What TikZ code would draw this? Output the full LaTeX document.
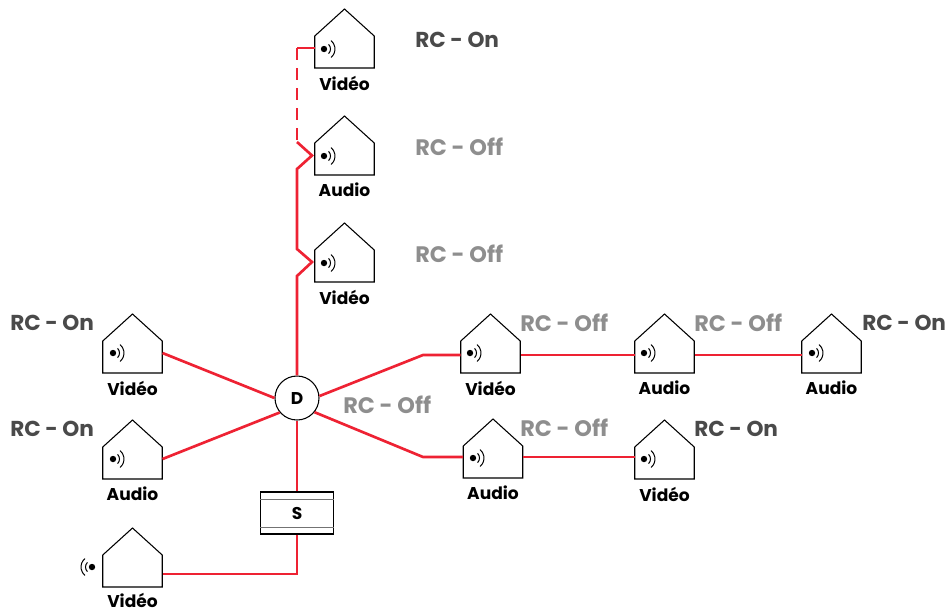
\documentclass[tikz,border=0pt]{standalone}
\usepackage{fontspec}
\setmainfont{Poppins}
\definecolor{wirered}{HTML}{EE2233}
\definecolor{rcon}{HTML}{4A4A4A}
\definecolor{rcoff}{HTML}{8E8E8E}
\tikzset{
  wire/.style={wirered, line width=2pt},
  outline/.style={line width=0.8pt, line join=miter},
  port/.style={inner sep=0pt, minimum width=44.6pt, minimum height=1pt},
  caption/.style={inner sep=0pt, font=\fontsize{12.8}{13}\selectfont\bfseries},
  on/.style={inner sep=0pt, anchor=west, text=rcon, font=\fontsize{16.2}{17}\selectfont\bfseries},
  off/.style={inner sep=0pt, anchor=west, text=rcoff, font=\fontsize{16.8}{17}\selectfont\bfseries},
  pics/signal/.style={code={
    \fill (0,0) circle (3.2);
    \draw[line width=0.75pt] (45:6.5) arc (45:-45:6.5);
    \draw[line width=0.75pt] (50:11) arc (50:-50:11);
  }}
}
% name, x of centre, y of apex, y of wire, caption
\newcommand{\house}[5]{
  \node[port] (#1) at (#2,#4) {};
  \draw[outline] (#2,#3) -- (#2+29.75,#3+27) -- (#2+29.75,#3+59) -- (#2-29.75,#3+59) -- (#2-29.75,#3+27) -- cycle;
  \node[caption] (#1text) at (#2,#3+74) {#5};
}
\begin{document}
\begin{tikzpicture}[x=0.75pt,y=-0.75pt]
\useasboundingbox (0,0) rectangle (948,608);

\house{VA}{344.5}{9}{48}{Vidéo}
\house{AB}{344.5}{116}{155}{Audio}
\house{VC}{344.5}{223}{262}{Vidéo}
\house{VL}{132.5}{314}{353}{Vidéo}
\house{AL}{132.5}{420}{459}{Audio}
\begin{scope}[caption/.append style={yshift=1pt}]
\house{VB}{132.5}{528}{574}{Vidéo}
\end{scope}
\house{VR}{490.5}{314}{355}{Vidéo}
\house{AR}{664.5}{314}{355}{Audio}
\house{AS}{831.5}{314}{355}{Audio}
\house{AT}{493}{419}{457}{Audio}
\house{VT}{664.5}{420}{457}{Vidéo}

\pic at (324,49) {signal};
\pic at (324,156) {signal};
\pic at (324,263) {signal};
\pic at (113,353) {signal};
\pic at (113,459) {signal};
\pic at (470,353) {signal};
\pic at (644,353) {signal};
\pic at (812,353) {signal};
\pic at (473,458) {signal};
\pic at (644,459) {signal};
\pic[rotate=180] at (92,567) {signal};

\node[circle, draw, fill=white, line width=0.8pt, inner sep=0pt, minimum size=33pt, font=\fontsize{12.8}{13}\selectfont\bfseries] (D) at (297,398) {D};
\node[draw, line width=0.8pt, inner sep=0pt, minimum width=55pt, minimum height=31.5pt, font=\fontsize{12.8}{13}\selectfont\bfseries] (S) at (297,513) {S};
\draw[line width=1pt, black!55] ([yshift=-6pt]S.north west) -- ([yshift=-6pt]S.north east);
\draw[line width=1pt, black!55] ([yshift=5.2pt]S.south west) -- ([yshift=5.2pt]S.south east);

\coordinate (zigA) at (297,142);
\coordinate (topA) at (297,48);
\coordinate (elbowU) at (423,355);
\coordinate (elbowL) at (423,457);
\coordinate (elbowB) at (297,574);

\draw[wire] (VA.west) -- (topA);
\draw[wire, dash pattern=on 9pt off 6pt] (topA) -- (zigA);
\draw[wire] (zigA) -- (312,155.5) -- (297,169) -- (297,249) -- (312,262) -- (297,276) -- (D.north);
\draw[wire] (VL.east) -- (D.180);
\draw[wire] (AL.east) -- (D.220);
\draw[wire] (D.5) -- (elbowU) -- (VR.west);
\draw[wire] (D.-39) -- (elbowL) -- (AT.west);
\draw[wire] (VR.east) -- (AR.west);
\draw[wire] (AR.east) -- (AS.west);
\draw[wire] (AT.east) -- (VT.west);
\draw[wire] (D.south) -- (S.north);
\draw[wire] (S.south) -- (elbowB) -- (VB.east);

\node[on] (rcA) at (415,40) {RC - On};
\node[off] (rcB) at (415,147) {RC - Off};
\node[off] (rcC) at (415,254) {RC - Off};
\node[on] (rcD) at (10,323) {RC - On};
\node[on] (rcE) at (10,429) {RC - On};
\node[off] (rcF) at (520,323) {RC - Off};
\node[off] (rcG) at (694,323) {RC - Off};
\node[on] (rcH) at (862,323) {RC - On};
\node[off] (rcI) at (343,405) {RC - Off};
\node[off] (rcJ) at (520,428) {RC - Off};
\node[on] (rcK) at (694,429) {RC - On};
\end{tikzpicture}
\end{document}
